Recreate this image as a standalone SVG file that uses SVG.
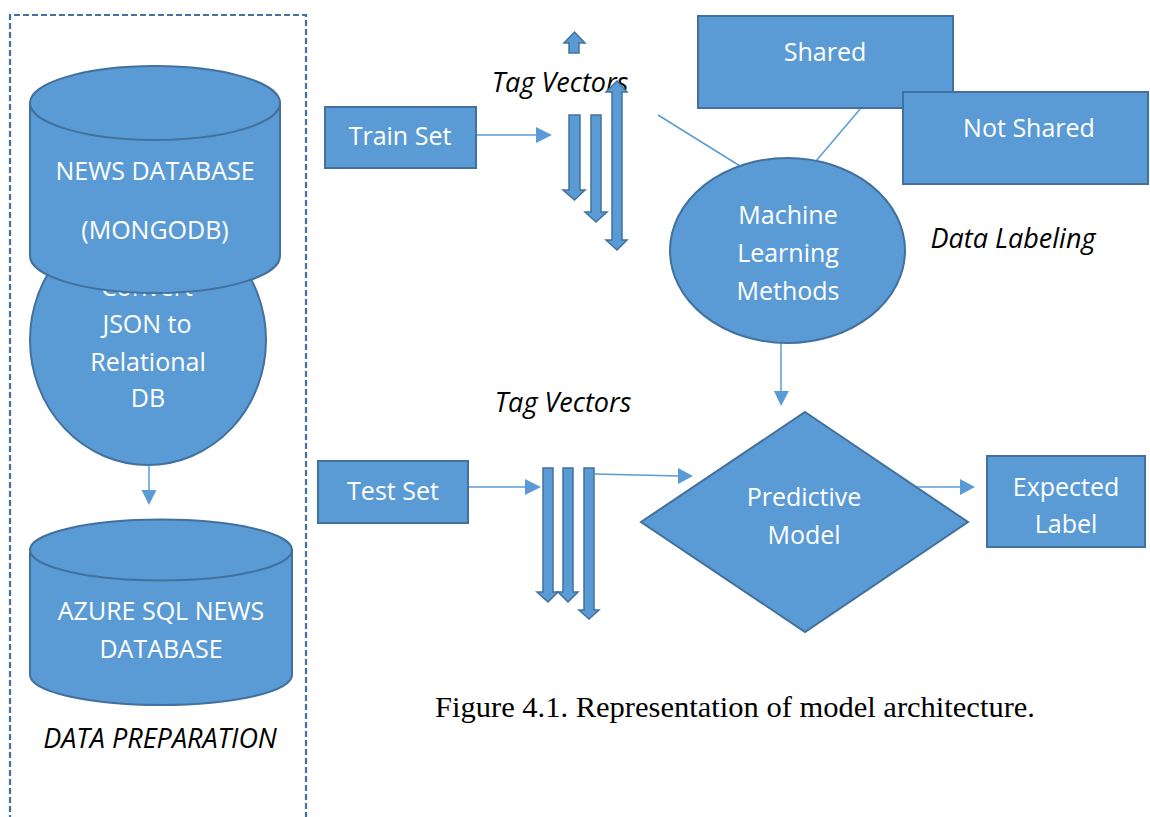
<svg xmlns="http://www.w3.org/2000/svg" width="1150" height="817" viewBox="0 0 1150 817">
<style>
.shape{fill:#5B9BD5;stroke:#41719C;stroke-width:2}
.barrow{fill:#5B9BD5;stroke:#41719C;stroke-width:1.5;stroke-linejoin:miter}
.lbl{font-family:"Open Sans","Liberation Sans",sans-serif;font-size:25px;fill:#FFFFFF;text-anchor:middle}
.cap{font-family:"Open Sans","Liberation Sans",sans-serif;font-size:27px;font-style:italic;fill:#000000;text-anchor:middle}
.conn{stroke:#5B9BD5;stroke-width:1.5;fill:none}
.head{fill:#5B9BD5;stroke:none}
</style>
<rect x="0" y="0" width="1150" height="817" fill="#FFFFFF"/>
<g id="data-preparation-frame">
<path d="M10 830 V15 H306 V830" fill="none" stroke="#41719C" stroke-width="2.2" stroke-dasharray="6 3"/>
<text class="cap" x="160" y="748">DATA PREPARATION</text>
</g>
<g id="convert-json">
<ellipse class="shape" cx="148" cy="340" rx="118" ry="125"/>
<text class="lbl" x="147" y="296">Convert</text>
<text class="lbl" x="147" y="333">JSON to</text>
<text class="lbl" x="148" y="371">Relational</text>
<text class="lbl" x="148" y="407">DB</text>
</g>
<g id="news-database">
<path class="shape" d="M30 103 L30 256 A125 37 0 0 0 280 256 L280 103 Z"/>
<ellipse class="shape" cx="155" cy="103" rx="125" ry="37"/>
<text class="lbl" x="155" y="180">NEWS DATABASE</text>
<text class="lbl" x="155" y="239">(MONGODB)</text>
</g>
<g id="azure-sql">
<path class="shape" d="M30 550 L30 675 A131 30 0 0 0 292 675 L292 550 Z"/>
<ellipse class="shape" cx="161" cy="550" rx="131" ry="30.5"/>
<text class="lbl" x="161" y="620">AZURE SQL NEWS</text>
<text class="lbl" x="161" y="658">DATABASE</text>
</g>
<g id="connectors">
<line class="conn" x1="149" y1="465" x2="149" y2="492"/>
<polygon class="head" points="141.5,490 156.5,490 149,505"/>
<line class="conn" x1="476" y1="135" x2="538" y2="135"/>
<polygon class="head" points="536,127 536,143 552,135"/>
<line class="conn" x1="469" y1="487" x2="527" y2="487"/>
<polygon class="head" points="525,479 525,495 541,487"/>
<line class="conn" x1="595" y1="474" x2="680" y2="476"/>
<polygon class="head" points="678,468 678,484 693,476"/>
<line class="conn" x1="781" y1="343" x2="781" y2="393"/>
<polygon class="head" points="774,391 789,391 781,406"/>
<line class="conn" x1="914" y1="487" x2="962" y2="487"/>
<polygon class="head" points="960,479 960,495 975,487"/>
<line class="conn" x1="658" y1="115" x2="740" y2="166"/>
<line class="conn" x1="861" y1="108" x2="816" y2="161"/>
</g>
<g id="train-set">
<rect class="shape" x="325" y="107" width="151" height="61"/>
<text class="lbl" x="400" y="145">Train Set</text>
</g>
<g id="train-tag-vectors">
<text class="cap" x="560" y="92">Tag Vectors</text>
<path class="barrow" d="M569 53 L579 53 L579 43 L585 43 L574.5 32 L564 43 L569 43 Z"/>
<path class="barrow" d="M569 115 L580 115 L580 190 L585 190 L574.5 200 L563 190 L569 190 Z"/>
<path class="barrow" d="M591 115 L601 115 L601 212 L607 212 L596 222 L585 212 L591 212 Z"/>
<path class="barrow" d="M617 81 L627 92 L622 92 L622 240 L627 240 L617 250 L606 240 L612 240 L612 92 L606 92 Z"/>
</g>
<g id="shared">
<rect class="shape" x="698" y="16" width="255" height="92"/>
<text class="lbl" x="825" y="61">Shared</text>
</g>
<g id="not-shared">
<rect class="shape" x="903" y="92" width="245" height="92"/>
<text class="lbl" x="1029" y="137">Not Shared</text>
</g>
<g id="ml-methods">
<ellipse class="shape" cx="787.5" cy="250.5" rx="117.5" ry="92.5"/>
<text class="lbl" x="788" y="224">Machine</text>
<text class="lbl" x="788" y="262">Learning</text>
<text class="lbl" x="788" y="300">Methods</text>
</g>
<g id="data-labeling">
<text class="cap" x="1013" y="248">Data Labeling</text>
</g>
<g id="test-set">
<rect class="shape" x="318" y="461" width="150" height="62"/>
<text class="lbl" x="393" y="500">Test Set</text>
</g>
<g id="test-tag-vectors">
<text class="cap" x="563" y="412">Tag Vectors</text>
<path class="barrow" d="M543 468 L553 468 L553 592 L558 592 L548 602 L537 592 L543 592 Z"/>
<path class="barrow" d="M563 468 L573 468 L573 592 L578 592 L568 602 L558 592 L563 592 Z"/>
<path class="barrow" d="M584 468 L594 468 L594 610 L599 610 L589 619 L579 610 L584 610 Z"/>
</g>
<g id="predictive-model">
<polygon class="shape" points="805,412 968,522 805,632 641,522"/>
<text class="lbl" x="804" y="506">Predictive</text>
<text class="lbl" x="804" y="544">Model</text>
</g>
<g id="expected-label">
<rect class="shape" x="987" y="456" width="158" height="91"/>
<text class="lbl" x="1066" y="496">Expected</text>
<text class="lbl" x="1066" y="533">Label</text>
</g>
<g id="caption">
<text x="435" y="717" font-family="'Liberation Serif','Times New Roman',serif" font-size="30" textLength="600" lengthAdjust="spacingAndGlyphs" fill="#000000">Figure 4.1. Representation of model architecture.</text>
</g>
</svg>
